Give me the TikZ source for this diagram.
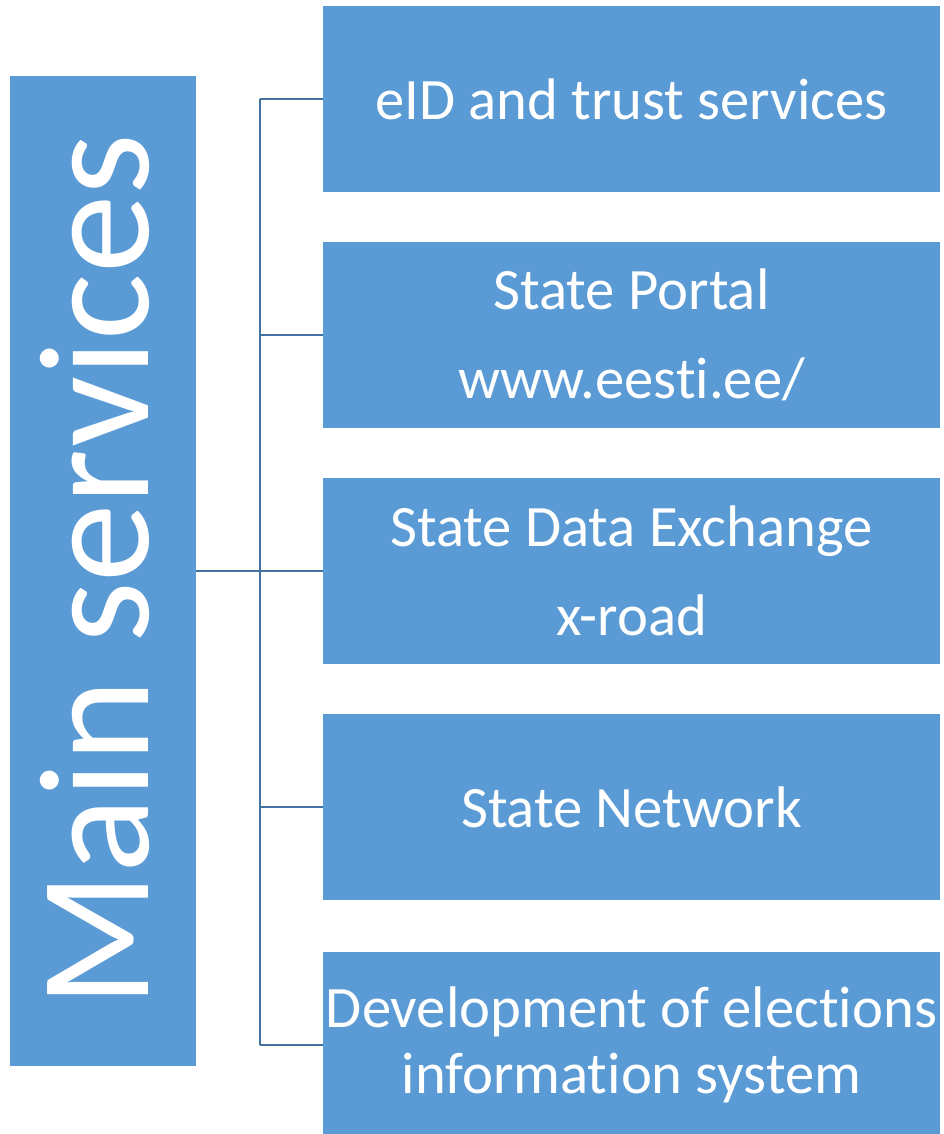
\documentclass[tikz,border=0pt]{standalone}
\usepackage{fontspec}
\setmainfont{Carlito}[Ligatures=NoCommon]
\usetikzlibrary{positioning}
\definecolor{boxblue}{HTML}{5B9BD5}
\definecolor{lineblue}{HTML}{41719C}

\begin{document}
\begin{tikzpicture}[x=0.75pt, y=-0.75pt,
    svcbox/.style={rectangle, fill=boxblue, text=white, inner sep=0pt, align=center,
      minimum width=462.75pt, minimum height=139.5pt, font=\fontsize{44}{67}\selectfont},
    mainbox/.style={rectangle, fill=boxblue, text=white, inner sep=0pt,
      minimum width=139.5pt, minimum height=742.5pt, font=\fontsize{118}{118}\selectfont},
    conn/.style={draw=lineblue, line width=1.5pt}]
  \useasboundingbox (0,0) rectangle (943,1134);

  \node[mainbox]                    (main) at (103,571)   {\hspace*{-12pt}\rotatebox{90}{Main services}};
  \node[svcbox]                     (s1)   at (631.5,99)  {eID and trust services};
  \node[svcbox]                     (s2)   at (631.5,335) {State Portal\\www.eesti.ee/};
  \node[svcbox]                     (s3)   at (631.5,571) {State Data Exchange\\x-road};
  \node[svcbox]                     (s4)   at (631.5,807) {State Network};
  \node[svcbox, font=\fontsize{44}{49.5}\selectfont]
                                    (s5)   at (631.5,1045) {Development of elections\\information system};
  \coordinate                       (trunk) at (260,571);

  % main box -> trunk
  \draw[conn] (main.east) -- (trunk);
  % trunk, top branch to bottom branch
  \draw[conn] (trunk |- s1.west) -- (trunk |- s5.west);
  % trunk -> each service
  \foreach \s in {s1,s2,s3,s4,s5}
    \draw[conn] (trunk |- \s.west) -- (\s.west);
\end{tikzpicture}
\end{document}
